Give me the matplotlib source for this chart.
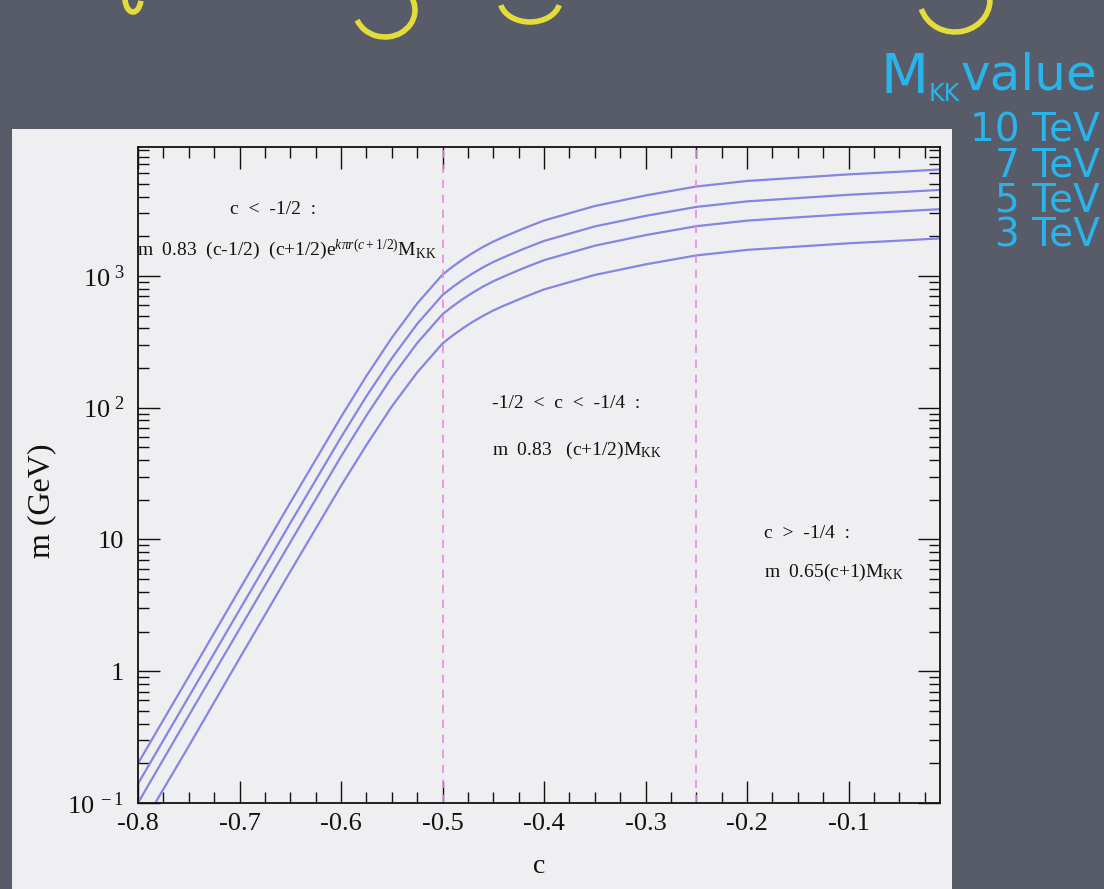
import matplotlib

matplotlib.use("Agg")
import matplotlib.pyplot as plt  # noqa: E402
from matplotlib.patches import Arc, Rectangle  # noqa: E402
from matplotlib.ticker import FixedLocator, LogLocator, MultipleLocator, NullFormatter  # noqa: E402

SLATE = "#585b68"
PANEL = "#efeff2"
CURVE = "#8585e3"
DASH = "#e58ae8"
CYAN = "#2ab4ec"
YELLOW = "#e4dc3a"
INK = "#111111"

plt.rcParams["font.family"] = ["Liberation Serif", "DejaVu Serif"]
plt.rcParams["mathtext.fontset"] = "custom"
plt.rcParams["mathtext.rm"] = "Liberation Serif"
plt.rcParams["mathtext.it"] = "Liberation Serif:italic"

# bulk parameter c and the lightest mode mass (GeV) for each KK scale
c_vals = [-0.80, -0.75, -0.70, -0.65, -0.60, -0.575, -0.55, -0.525, -0.50,
          -0.49, -0.48, -0.47, -0.46, -0.45, -0.44, -0.42, -0.40, -0.35,
          -0.30, -0.25, -0.20, -0.15, -0.10, -0.05, -0.01]
m_10tev = [0.20, 0.91, 4.17, 19.0, 85, 174, 339, 617, 1023, 1175, 1334, 1496,
           1660, 1820, 1972, 2291, 2630, 3388, 4074, 4764, 5248, 5559, 5888,
           6166, 6412]
m_7tev = [0.14, 0.64, 2.92, 13.3, 59.6, 122, 237, 432, 716, 823, 934, 1047,
          1162, 1274, 1380, 1604, 1841, 2372, 2852, 3335, 3674, 3891, 4122,
          4316, 4488]
m_5tev = [0.10, 0.46, 2.09, 9.5, 42.6, 87, 170, 309, 512, 588, 667, 748, 830,
          910, 986, 1146, 1315, 1694, 2037, 2382, 2624, 2780, 2944, 3083, 3206]
m_3tev = [0.06, 0.27, 1.25, 5.7, 25.5, 52, 102, 185, 307, 353, 400, 449, 498,
          546, 592, 687, 789, 1016, 1222, 1429, 1574, 1668, 1766, 1850, 1924]
mkk_labels = ["10 TeV", "7 TeV", "5 TeV", "3 TeV"]
c_boundaries = [-0.5, -0.25]

x_ticks = [-0.8, -0.7, -0.6, -0.5, -0.4, -0.3, -0.2, -0.1]
x_ticklabels = ["-0.8", "-0.7", "-0.6", "-0.5", "-0.4", "-0.3", "-0.2", "-0.1"]
y_ticks = [0.1, 1, 10, 100, 1000]
y_ticklabels = [r"$\mathregular{10^{\ -1}}$", "1", "10",
                r"$\mathregular{10^{\ 2}}$", r"$\mathregular{10^{\ 3}}$"]

W, H = 1104, 889
fig = plt.figure(figsize=(W / 100, H / 100), dpi=100)
fig.patch.set_facecolor(SLATE)

# backdrop in pixel units: slide panel, title strokes, KK-scale key
bg = fig.add_axes([0, 0, 1, 1], zorder=0)
bg.set_xlim(0, W)
bg.set_ylim(H, 0)
bg.axis("off")
bg.add_patch(Rectangle((12, 129), 940, H - 129, facecolor=PANEL, edgecolor="none"))
for cx, cy, w, h, t1, t2 in [(133, -2, 16, 28, 20, 170),
                             (385, 10, 60, 54, -40, 160),
                             (530, 0, 60, 44, 10, 170),
                             (955, 0, 70, 64, -10, 165)]:
    bg.add_patch(Arc((cx, cy), w, h, theta1=t1, theta2=t2, color=YELLOW, lw=4))

sans = "DejaVu Sans"
bg.text(880, 93, "M", color=CYAN, fontsize=40, family=sans, va="baseline")
bg.text(929, 101, "KK", color=CYAN, fontsize=17, family=sans, va="baseline")
bg.text(961, 89, "value", color=CYAN, fontsize=36, family=sans, va="baseline")
bg.text(1100, 112, "\n".join(mkk_labels), color=CYAN, fontsize=28,
        family=sans, ha="right", va="top", multialignment="right",
        linespacing=0.89)

# the plot itself
ax = fig.add_axes([138 / W, 1 - 803 / H, 802 / W, 656 / H], zorder=1)
ax.set_facecolor(PANEL)
for m in [m_10tev, m_7tev, m_5tev, m_3tev]:
    ax.plot(c_vals, m, color=CURVE, lw=1.6)
for cb in c_boundaries:
    ax.axvline(cb, color=DASH, lw=1.2, ls=(0, (5, 4)))

ax.set_yscale("log")
ax.set_xlim(-0.8, -0.01)
ax.set_ylim(0.1, 9500)

ax.xaxis.set_major_locator(FixedLocator(x_ticks))
ax.set_xticklabels(x_ticklabels)
ax.xaxis.set_minor_locator(MultipleLocator(0.025))
ax.yaxis.set_major_locator(FixedLocator(y_ticks))
ax.set_yticklabels(y_ticklabels)
ax.yaxis.set_minor_locator(LogLocator(base=10, subs=range(2, 10)))
ax.yaxis.set_minor_formatter(NullFormatter())

ax.tick_params(which="both", direction="in", top=True, right=True, color=INK,
               width=1.0)
ax.tick_params(which="major", length=16, labelsize=19, labelcolor=INK)
ax.tick_params(which="minor", length=8)
ax.tick_params(axis="x", which="major", pad=7)
ax.tick_params(axis="y", which="major", pad=10)
for s in ax.spines.values():
    s.set_color(INK)
    s.set_linewidth(1.3)

ax.set_xlabel("c", fontsize=20, color=INK, labelpad=14)
ax.set_ylabel("m (GeV)", fontsize=23, color=INK)
ax.yaxis.set_label_coords(-0.102, 0.46)

note = dict(fontsize=14, color=INK, va="center")
ax.text(-0.667, 3160, "c  <  -1/2  :", ha="center", **note)
ax.text(-0.801, 1575,
        r"m  0.83  (c-1/2)  (c+1/2)e$^{k\pi r(c+1/2)}$M$_{\mathregular{KK}}$",
        ha="left", **note)
ax.text(-0.451, 107, "-1/2  <  c  <  -1/4  :", ha="left", **note)
ax.text(-0.451, 47, r"m  0.83   (c+1/2)M$_{\mathregular{KK}}$",
        ha="left", **note)
ax.text(-0.1835, 11.1, "c  >  -1/4  :", ha="left", **note)
ax.text(-0.1835, 5.6, r"m  0.65(c+1)M$_{\mathregular{KK}}$",
        ha="left", **note)

fig.savefig("out.png", dpi=100, facecolor=fig.get_facecolor())
